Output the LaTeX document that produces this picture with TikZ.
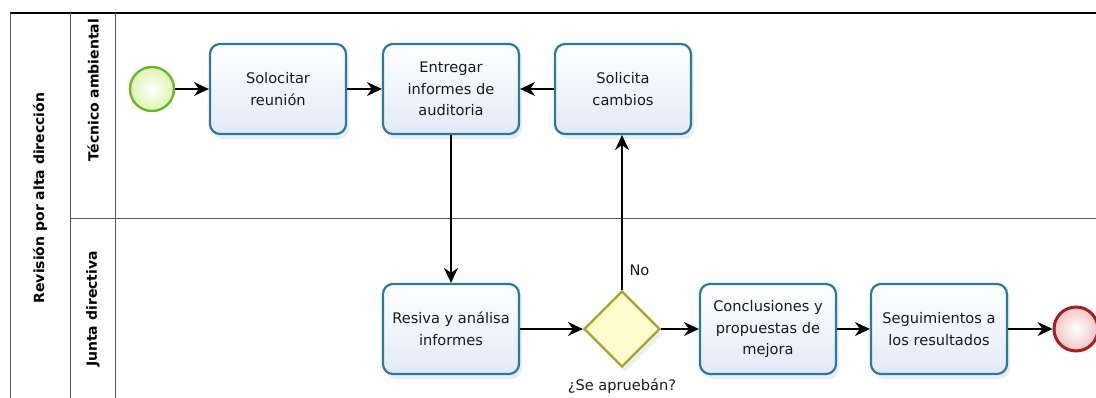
\documentclass[tikz,border=0pt]{standalone}
\usepackage{fontspec}
\setmainfont{DejaVu Sans}
\usetikzlibrary{shapes.geometric,arrows.meta,shadows}
\definecolor{taskblue}{HTML}{2B78A6}
\definecolor{taskfill}{HTML}{E2EAF8}
\definecolor{startgreen}{HTML}{6CB52F}
\definecolor{startfill}{HTML}{DDF5B0}
\definecolor{endred}{HTML}{A81E1E}
\definecolor{endfill}{HTML}{F2C4C4}
\definecolor{gwline}{HTML}{A8A62A}
\definecolor{gwfill}{HTML}{FFFBCF}
\definecolor{laneline}{HTML}{5A5A5A}
\definecolor{txt}{HTML}{1A1A1A}
\begin{document}
\begin{tikzpicture}[x=1pt,y=-1pt,
  task/.style={draw=taskblue, line width=2.2pt, rounded corners=10pt,
    top color=white, bottom color=taskfill, minimum width=136pt, minimum height=90pt,
    align=center, text=txt, font=\fontsize{14.6}{21.5}\selectfont, inner sep=1pt,
    drop shadow={opacity=0.14, shadow xshift=3pt, shadow yshift=-5pt}},
  startev/.style={circle, draw=startgreen, line width=2.4pt, inner sep=0pt,
    minimum size=44pt, inner color=white, outer color=startfill},
  endev/.style={circle, draw=endred, line width=3pt, inner sep=0pt,
    minimum size=44pt, inner color=white, outer color=endfill},
  gateway/.style={diamond, aspect=1, draw=gwline, line width=2.2pt, inner sep=0pt,
    minimum width=76pt, minimum height=76pt, fill=gwfill,
    drop shadow={opacity=0.14, shadow xshift=3pt, shadow yshift=-5pt}},
  flow/.style={draw=black, line width=1.2pt, -{Stealth[length=15pt,width=14pt,inset=5pt]}},
  lbl/.style={text=txt, font=\fontsize{14.6}{17}\selectfont},
  lanelbl/.style={text=black, font=\bfseries\fontsize{14}{16}\selectfont, rotate=90},
  laneln/.style={draw=laneline, line width=0.9pt}]
\useasboundingbox (0,0) rectangle (1096,398);
% pool and lanes
\draw[line width=1.4pt,black] (10,13) -- (1096,13);
\draw[laneln] (10,13) -- (10,398);
\draw[laneln] (70,13) -- (70,398);
\draw[laneln] (115,13) -- (115,398);
\draw[laneln] (70,218) -- (1096,218);
\node[lanelbl] (pool) at (40,198) {Revisión por alta dirección};
\node[lanelbl] (lane1) at (93,90) {Técnico ambiental};
\node[lanelbl] (lane2) at (93,309) {Junta directiva};
% nodes
\node[startev] (start) at (152,89) {};
\node[task] (sol) at (278,89) {Solocitar\\reunión};
\node[task] (ent) at (451,89) {Entregar\\informes de\\auditoria};
\node[task] (cam) at (623,89) {Solicita\\cambios};
\node[task] (res) at (451,329) {Resiva y análisa\\informes};
\node[gateway] (gw) at (622,329) {};
\node[task] (con) at (768,329) {Conclusiones y\\propuestas de\\mejora};
\node[task] (seg) at (939,329) {Seguimientos a\\los resultados};
\node[endev] (end) at (1076,329) {};
% labels
\node[lbl, anchor=west] (no) at (626,270) {No};
\node[lbl] (q) at (622,386) {¿Se apruebán?};
% flows
\draw[flow] (start) -- (sol);
\draw[flow] (sol) -- (ent);
\draw[flow] (cam) -- (ent);
\draw[flow] (ent.south) -- (res.north);
\draw[flow] (gw.north) -- (gw.north |- cam.south);
\draw[flow] (res) -- (gw);
\draw[flow] (gw) -- (con);
\draw[flow] (con) -- (seg);
\draw[flow] (seg) -- (end);
\end{tikzpicture}
\end{document}
